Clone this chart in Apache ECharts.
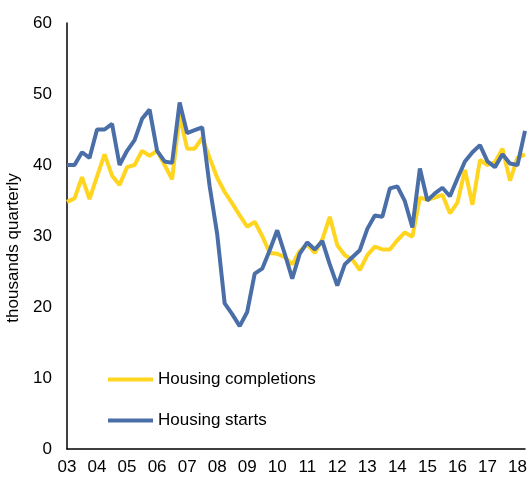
<!DOCTYPE html>
<html>
<head>
<meta charset="utf-8">
<script src="https://cdn.jsdelivr.net/npm/echarts@6/dist/echarts.min.js"></script>
<style>
	html,body{margin:0;padding:0;background:#fff}
	#chart{width:529px;height:480px}
</style>
</head>
<body>
<div id="chart"></div>
<script>
	// year tick labels, one every 4 quarters
	var years = ['03','04','05','06','07','08','09','10','11','12','13','14','15','16','17','18'];
	// housing completions, thousands per quarter, 2003Q1 - 2018Q2
	var completions = [34.8,35.3,38.3,35.2,38.4,41.5,38.5,37.2,39.7,40.0,42.0,41.3,42.0,40.0,38.0,47.0,
		42.3,42.3,43.8,41.0,38.2,36.2,34.6,32.9,31.3,32.0,30.0,27.6,27.5,27.0,26.0,27.9,
		28.8,27.6,29.5,32.7,28.7,27.3,26.7,25.2,27.3,28.5,28.1,28.1,29.4,30.5,29.9,35.4,
		35.1,35.4,35.8,33.2,34.7,39.3,34.4,40.7,40.0,40.4,42.3,37.8,41.0,41.5];
	// housing starts
	var starts = [40.0,40.0,41.8,41.0,45.0,45.0,45.8,40.0,42.0,43.5,46.5,47.8,42.0,40.5,40.3,48.8,
		44.5,44.9,45.3,37.0,30.3,20.5,19.0,17.3,19.3,24.7,25.4,28.0,30.8,27.5,24.0,27.5,
		29.1,28.1,29.3,26.0,23.0,26.0,27.0,28.0,31.0,32.9,32.7,36.7,37.0,34.9,31.2,39.5,
		35.0,36.0,36.8,35.6,38.1,40.5,41.8,42.8,40.5,39.7,41.5,40.2,40.0,44.8];

	var quarters = [];
	for (var i = 0; i < starts.length; i++) {
		quarters.push(years[Math.floor(i / 4)] + 'Q' + (i % 4 + 1));
	}

	var myChart = echarts.init(document.getElementById('chart'));
	var font = 'Liberation Sans, Arial, sans-serif';
	option = {
		animation: false,
		textStyle: {fontFamily: font},
		grid: {left: 67, right: 4, top: 23, bottom: 31, outerBoundsMode: 'none'},
		legend: {
			orient: 'vertical',
			left: 103,
			top: 366,
			icon: 'rect',
			itemWidth: 45,
			itemHeight: 4,
			itemGap: 24,
			textStyle: {fontSize: 17, color: '#000', fontFamily: font},
			data: ['Housing completions', 'Housing starts']
		},
		xAxis: {
			type: 'category',
			data: quarters,
			boundaryGap: false,
			axisLine: {lineStyle: {color: '#000', width: 1.5}},
			axisTick: {show: false},
			axisLabel: {
				interval: 3,
				margin: 10,
				fontSize: 17,
				color: '#000',
				formatter: function (v) { return v.slice(0, 2); }
			},
			splitLine: {show: false}
		},
		yAxis: {
			type: 'value',
			min: 0,
			max: 60,
			interval: 10,
			name: 'thousands quarterly',
			nameLocation: 'middle',
			nameGap: 43,
			nameTextStyle: {fontSize: 17, color: '#000', fontFamily: font, padding: [0, 24, 0, 0]},
			axisLine: {show: true, lineStyle: {color: '#000', width: 1.5}},
			axisTick: {show: false},
			axisLabel: {fontSize: 17, color: '#000', margin: 15},
			splitLine: {show: false}
		},
		series: [
			{
				name: 'Housing completions',
				type: 'line',
				data: completions,
				symbol: 'none',
				itemStyle: {color: '#ffd520'},
				lineStyle: {color: '#ffd520', width: 4}
			},
			{
				name: 'Housing starts',
				type: 'line',
				data: starts,
				symbol: 'none',
				itemStyle: {color: '#4a6ea8'},
				lineStyle: {color: '#4a6ea8', width: 4}
			}
		]
	};
	myChart.setOption(option);
</script>
</body>
</html>
